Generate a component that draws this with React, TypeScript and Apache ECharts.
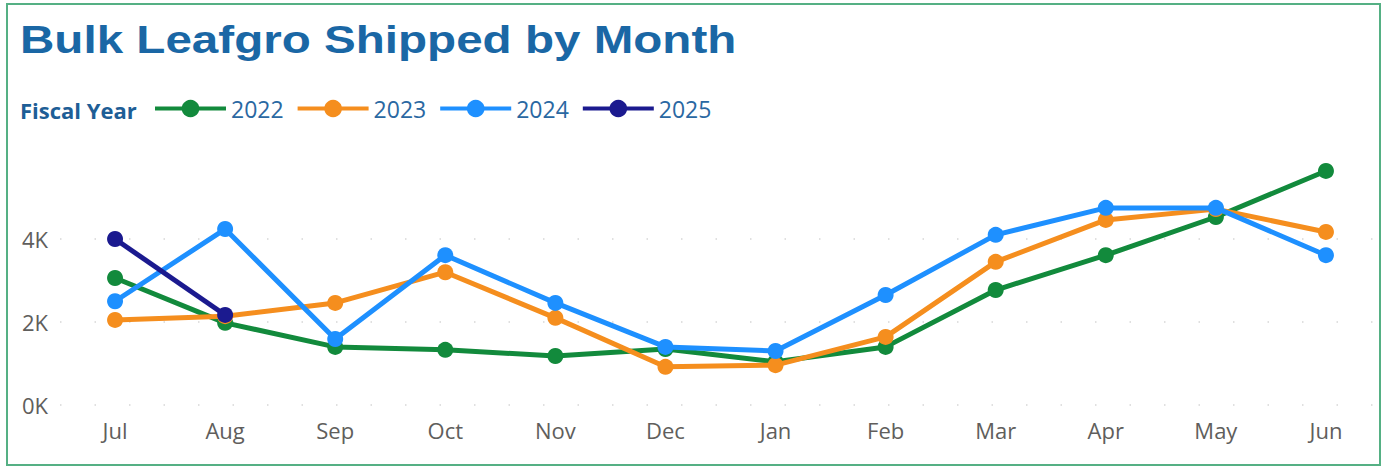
import React, { useEffect, useRef } from "react";
import * as echarts from "echarts";

const months = ["Jul", "Aug", "Sep", "Oct", "Nov", "Dec", "Jan", "Feb", "Mar", "Apr", "May", "Jun"];
const fy2022 = [3060, 1980, 1400, 1330, 1180, 1350, 1040, 1400, 2770, 3610, 4530, 5640];
const fy2023 = [2050, 2140, 2460, 3200, 2100, 920, 960, 1640, 3450, 4460, 4720, 4170];
const fy2024 = [2500, 4240, 1590, 3610, 2460, 1400, 1300, 2650, 4100, 4750, 4750, 3610];
const fy2025 = [4000, 2170, null, null, null, null, null, null, null, null, null, null];
const seriesNames = ["2022", "2023", "2024", "2025"];
const seriesColors = ["#128A3C", "#F58E1E", "#1E90FF", "#1B1A8F"];

export default function App() {
  const ref = useRef<HTMLDivElement>(null);
  useEffect(() => {
    if (!ref.current) return;
    const chart = echarts.init(ref.current, null, { renderer: "svg" });
    const data = [fy2022, fy2023, fy2024, fy2025];
    const font = "'Open Sans', 'Noto Sans', sans-serif";
    chart.setOption({
      animation: false,
      backgroundColor: "#ffffff",
      graphic: [
        {
          type: "rect",
          shape: { x: 7, y: 4, width: 1373, height: 461 },
          style: { fill: "none", stroke: "#55B084", lineWidth: 2 },
          silent: true,
        },
        {
          type: "text",
          x: 20,
          y: 40,
          scaleX: 1.22,
          style: {
            text: "Bulk Leafgro Shipped by Month",
            font: "bold 39px 'Liberation Sans', Arial, sans-serif",
            fill: "#1A67A5",
            textVerticalAlign: "middle",
          },
        },
        {
          type: "text",
          x: 20,
          y: 110,
          style: {
            text: "Fiscal Year",
            font: "bold 22px " + font,
            fill: "#1E5E96",
            textVerticalAlign: "middle",
          },
        },
      ],
      legend: {
        left: 148,
        top: 92,
        itemWidth: 71,
        itemHeight: 22,
        itemGap: 12,
        lineStyle: { width: 4 },
        textStyle: { fontFamily: font, fontSize: 23, color: "#2A68A2" },
        data: seriesNames,
      },
      grid: { left: 60, right: 8, top: 156, bottom: 63 },
      xAxis: {
        type: "category",
        data: months,
        boundaryGap: true,
        axisLine: { show: false },
        axisTick: { show: false },
        axisLabel: { fontFamily: font, fontSize: 22, color: "#605E5C", margin: 14 },
      },
      yAxis: {
        type: "value",
        min: 0,
        max: 6000,
        interval: 2000,
        axisLine: { show: false },
        axisTick: { show: false },
        axisLabel: {
          fontFamily: font,
          fontSize: 22,
          color: "#605E5C",
          margin: 12,
          showMaxLabel: false,
          formatter: (v: number) => v / 1000 + "K",
        },
        splitLine: {
          show: true,
          showMaxLine: false,
          lineStyle: { color: "#D6D6D6", width: 1.5, type: [1.5, 33] },
        },
      },
      series: seriesNames.map((name, i) => ({
        name,
        type: "line",
        data: data[i],
        color: seriesColors[i],
        symbol: "circle",
        symbolSize: 16,
        lineStyle: { width: 5, color: seriesColors[i] },
        itemStyle: { color: seriesColors[i] },
        connectNulls: false,
        z: 2 + i,
      })),
    });
    return () => chart.dispose();
  }, []);
  return (
    <div
      ref={ref}
      style={{ position: "absolute", left: 0, top: 0, width: 1389, height: 468 }}
    />
  );
}
